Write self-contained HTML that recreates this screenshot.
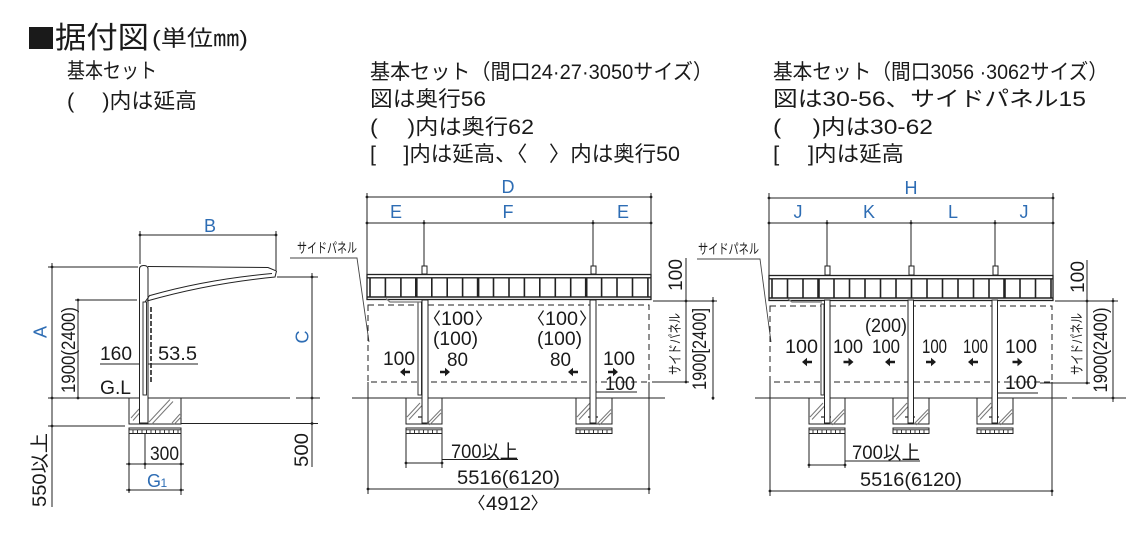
<!DOCTYPE html>
<html><head><meta charset="utf-8">
<style>
html,body{margin:0;padding:0;background:#fff;}
svg{display:block;}
text{font-family:"Liberation Sans","Noto Sans CJK JP",sans-serif;fill:#1a1a1a;}
.b{fill:#2e6db4;}
</style></head><body>
<svg width="1126" height="558" viewBox="0 0 1126 558" xmlns="http://www.w3.org/2000/svg">
<defs>
  <g id="ft">
    <path d="M-18,398V424H18V398" fill="none" stroke="#222" stroke-width="1"/>
    <rect x="-18" y="428" width="36" height="5.5" fill="none" stroke="#222" stroke-width="1"/>
    <path d="M-18,429.8H18 M-14,429.8V433.5 M-9.5,429.8V433.5 M-5,429.8V433.5 M-0.5,429.8V433.5 M4,429.8V433.5 M8.5,429.8V433.5 M13,429.8V433.5" fill="none" stroke="#222" stroke-width="0.9"/>
    <path d="M-17,417L-4,403 M-15,419.5L-2,405.5 M3,424L17,409.5 M5.5,425L17,413" fill="none" stroke="#777" stroke-width="1"/>
    <path d="M-6,417H4" stroke="#222" stroke-width="1.2"/>
  </g>
  <path id="ar" d="M-5,-1.3h5v-3l5,4.3l-5,4.3v-3h-5z" fill="#1a1a1a"/>
</defs>

<!-- Header -->
<rect x="29" y="27" width="24" height="22" fill="#1a1a1a"/>
<text x="55" y="48" font-size="30" textLength="94" lengthAdjust="spacingAndGlyphs">据付図</text>
<text x="152" y="46" font-size="22" textLength="96" lengthAdjust="spacingAndGlyphs">(単位㎜)</text>

<text x="67" y="78" font-size="21" textLength="90" lengthAdjust="spacingAndGlyphs">基本セット</text>
<text x="67" y="108" font-size="21" textLength="130" lengthAdjust="spacingAndGlyphs">(　 )内は延高</text>

<text x="370" y="79" font-size="21" textLength="343" lengthAdjust="spacingAndGlyphs">基本セット（間口24·27·3050サイズ）</text>
<text x="370" y="106" font-size="21" textLength="116" lengthAdjust="spacingAndGlyphs">図は奥行56</text>
<text x="370" y="134" font-size="21" textLength="164" lengthAdjust="spacingAndGlyphs">(　 )内は奥行62</text>
<text x="370" y="161" font-size="21" textLength="310" lengthAdjust="spacingAndGlyphs">[　 ]内は延高、〈　〉内は奥行50</text>

<text x="773" y="79" font-size="21" textLength="335" lengthAdjust="spacingAndGlyphs">基本セット（間口3056 ·3062サイズ）</text>
<text x="773" y="106" font-size="21" textLength="313" lengthAdjust="spacingAndGlyphs">図は30-56、サイドパネル15</text>
<text x="773" y="134" font-size="21" textLength="160" lengthAdjust="spacingAndGlyphs">(　 )内は30-62</text>
<text x="773" y="161" font-size="21" textLength="131" lengthAdjust="spacingAndGlyphs">[　 ]内は延高</text>

<!-- ========== LEFT DIAGRAM ========== -->
<g fill="none" stroke="#222" stroke-width="1">
  <path d="M140,235H276 M140,231V264 M276,231V270"/>
  <path d="M52,263V507 M48,267H138 M75,300H137 M78,300V398 M48,426H125 M48,398H290 M296,398H320 M277,277H318 M312,273V467 M181,423.5H318"/>
  <path d="M129,398V424H181V398"/>
  <rect x="129" y="428" width="52" height="5.5"/>
  <path d="M129,429.8H181 M133,429.8V433.5 M137.5,429.8V433.5 M142,429.8V433.5 M146.5,429.8V433.5 M151,429.8V433.5 M155.5,429.8V433.5 M160,429.8V433.5 M164.5,429.8V433.5 M169,429.8V433.5 M173.5,429.8V433.5 M178,429.8V433.5" stroke-width="0.9"/>
  <path d="M129,433V493 M145,433V469 M181,433V495 M126,464H184 M126,490H184"/>
  <path d="M100,364H198"/>
</g>
<path d="M131,418L139,409 M133,420.5L140,412.5 M149,422L170,399.5 M152,424L173,401.5 M172,423L180,414 M174.5,424L181,417" fill="none" stroke="#777" stroke-width="1"/>
<path d="M139.5,423V269Q139.5,265.5 143.8,265.5Q148,265.5 148,269V423Z" fill="#fff" stroke="#222" stroke-width="1"/>
<rect x="143" y="302" width="3.5" height="93" fill="#fff" stroke="#222" stroke-width="0.9"/>
<path d="M151,307V383" stroke="#222" stroke-width="1.6" stroke-dasharray="5 2"/>
<path d="M148,266.5L268,267.5L276.5,271L275,277Q208,283.5 147,301" fill="none" stroke="#222" stroke-width="1"/>
<path d="M150,295.5Q206,279.5 272,273.5" fill="none" stroke="#222" stroke-width="1"/>
<path d="M145,302L150,295" fill="none" stroke="#222" stroke-width="1"/>
<g fill="#222">
  <circle cx="140" cy="235" r="1.4"/><circle cx="276" cy="235" r="1.4"/>
  <circle cx="52" cy="267" r="1.4"/><circle cx="52" cy="398" r="1.4"/><circle cx="52" cy="426" r="1.4"/>
  <circle cx="78" cy="300" r="1.4"/><circle cx="78" cy="398" r="1.4"/>
  <circle cx="312" cy="277" r="1.4"/><circle cx="312" cy="398" r="1.4"/><circle cx="312" cy="423.5" r="1.4"/>
  <circle cx="129" cy="464" r="1.4"/><circle cx="145" cy="464" r="1.4"/><circle cx="181" cy="464" r="1.4"/>
  <circle cx="129" cy="490" r="1.4"/><circle cx="181" cy="490" r="1.4"/>
</g>
<text class="b" x="210" y="232" font-size="18" text-anchor="middle">B</text>
<text class="b" transform="translate(40,332) rotate(-90)" x="0" y="6.5" font-size="18" text-anchor="middle">A</text>
<text class="b" transform="translate(302,337) rotate(-90)" x="0" y="6.5" font-size="18" text-anchor="middle">C</text>
<text transform="translate(68,350) rotate(-90)" x="-43" y="6.8" font-size="19" textLength="86" lengthAdjust="spacingAndGlyphs">1900(2400)</text>
<text transform="translate(39,470) rotate(-90)" x="-37" y="6.8" font-size="19" textLength="74" lengthAdjust="spacingAndGlyphs">550以上</text>
<text transform="translate(301,450) rotate(-90)" x="-17" y="6.8" font-size="19" textLength="34" lengthAdjust="spacingAndGlyphs">500</text>
<text x="100" y="360" font-size="19" textLength="32" lengthAdjust="spacingAndGlyphs">160</text>
<text x="158" y="360" font-size="19" textLength="39" lengthAdjust="spacingAndGlyphs">53.5</text>
<text x="100" y="394" font-size="19" textLength="31" lengthAdjust="spacingAndGlyphs">G.L</text>
<text x="150" y="460" font-size="19" textLength="29" lengthAdjust="spacingAndGlyphs">300</text>
<text class="b" x="147" y="487" font-size="18">G</text>
<text class="b" x="160.5" y="487" font-size="12">1</text>

<!-- ========== MIDDLE DIAGRAM ========== -->
<g fill="none" stroke="#222" stroke-width="1">
  <path d="M367,197H651 M367,223H651 M367,193V274 M651,193V274 M424,220V267 M593,220V267"/>
  <path d="M352,398H665"/>
  <path d="M368,382V494 M649,382V494 M368,489H649"/>
  <path d="M406,433V468 M442,433V468 M406,463H442 M442,459.5H518"/>
  <path d="M686,258V382 M653,301H717 M652,382H689 M713,297V400"/>
  <path d="M590,392H637"/>
</g>
<text x="297" y="253" font-size="14" textLength="60" lengthAdjust="spacingAndGlyphs">サイドパネル</text>
<path d="M290,258H357L369,342" fill="none" stroke="#444" stroke-width="0.9"/>
<rect x="422" y="266" width="5" height="8" fill="#fff" stroke="#222" stroke-width="1"/>
<rect x="591" y="266" width="5" height="8" fill="#fff" stroke="#222" stroke-width="1"/>
<rect x="367" y="274.5" width="284" height="25" fill="#fff" stroke="#222" stroke-width="1.3"/>
<path d="M367,277.8H651 M367,297H651" stroke="#222" stroke-width="1.4" fill="none"/>
<path d="M370,278V297 M385.4,278V297 M400.9,278V297 M431.8,278V297 M447.2,278V297 M462.6,278V297 M493.5,278V297 M509,278V297 M524.4,278V297 M539.8,278V297 M555.3,278V297 M570.7,278V297 M601.6,278V297 M617,278V297 M632.5,278V297 M647.9,278V297" stroke="#222" stroke-width="1.6" fill="none"/>
<path d="M416.3,278V297 M478.1,278V297 M586.2,278V297" stroke="#222" stroke-width="2.6" fill="none"/>
<rect x="368" y="305" width="281" height="77" fill="none" stroke="#222" stroke-width="1" stroke-dasharray="6 4"/>
<use href="#ft" x="424" y="0"/>
<use href="#ft" x="594" y="0"/>
<rect x="422" y="300" width="6" height="123" fill="#fff" stroke="#222" stroke-width="1"/>
<rect x="590" y="300" width="6" height="123" fill="#fff" stroke="#222" stroke-width="1"/>
<rect x="418" y="302" width="3.5" height="93" fill="#fff" stroke="#222" stroke-width="0.9"/>
<path d="M386,298.5L390,302H421" fill="none" stroke="#777" stroke-width="1.2"/>
<g fill="#222">
  <circle cx="367" cy="197" r="1.4"/><circle cx="651" cy="197" r="1.4"/>
  <circle cx="367" cy="223" r="1.4"/><circle cx="424" cy="223" r="1.4"/><circle cx="593" cy="223" r="1.4"/><circle cx="651" cy="223" r="1.4"/>
  <circle cx="368" cy="489" r="1.4"/><circle cx="649" cy="489" r="1.4"/>
  <circle cx="406" cy="463" r="1.4"/><circle cx="442" cy="463" r="1.4"/>
  <circle cx="686" cy="301" r="1.4"/><circle cx="686" cy="382" r="1.4"/><circle cx="713" cy="301" r="1.4"/><circle cx="713" cy="398" r="1.4"/>
</g>
<text class="b" x="508" y="193" font-size="18" text-anchor="middle">D</text>
<text class="b" x="396" y="218" font-size="18" text-anchor="middle">E</text>
<text class="b" x="508" y="218" font-size="18" text-anchor="middle">F</text>
<text class="b" x="623" y="218" font-size="18" text-anchor="middle">E</text>
<!-- angle-bracketed 100 -->
<path d="M439.5,310.5L434.5,318L439.5,325.5 M476.5,310.5L481.5,318L476.5,325.5 M543.5,310.5L538.5,318L543.5,325.5 M580.5,310.5L585.5,318L580.5,325.5" fill="none" stroke="#1a1a1a" stroke-width="1.2"/>
<text x="441" y="325" font-size="19" textLength="33" lengthAdjust="spacingAndGlyphs">100</text>
<text x="545" y="325" font-size="19" textLength="33" lengthAdjust="spacingAndGlyphs">100</text>
<text x="433" y="345" font-size="19" textLength="45" lengthAdjust="spacingAndGlyphs">(100)</text>
<text x="447" y="366" font-size="19" textLength="21" lengthAdjust="spacingAndGlyphs">80</text>
<text x="383" y="365" font-size="19" textLength="32" lengthAdjust="spacingAndGlyphs">100</text>
<text x="537" y="345" font-size="19" textLength="45" lengthAdjust="spacingAndGlyphs">(100)</text>
<text x="550" y="366" font-size="19" textLength="21" lengthAdjust="spacingAndGlyphs">80</text>
<text x="603" y="365" font-size="19" textLength="32" lengthAdjust="spacingAndGlyphs">100</text>
<text x="605" y="390" font-size="19" textLength="30" lengthAdjust="spacingAndGlyphs">100</text>
<use href="#ar" transform="translate(405,372) scale(-1,1)"/>
<use href="#ar" transform="translate(445,372)"/>
<use href="#ar" transform="translate(573,372) scale(-1,1)"/>
<use href="#ar" transform="translate(613,372)"/>
<text x="451" y="458" font-size="19" textLength="67" lengthAdjust="spacingAndGlyphs">700以上</text>
<text x="457" y="484" font-size="19" textLength="103" lengthAdjust="spacingAndGlyphs">5516(6120)</text>
<path d="M484,495L479,502.5L484,510 M532,495L537,502.5L532,510" fill="none" stroke="#1a1a1a" stroke-width="1.2"/>
<text x="486" y="510" font-size="19" textLength="45" lengthAdjust="spacingAndGlyphs">4912</text>
<text transform="translate(675,275) rotate(-90)" x="-16" y="6.8" font-size="19" textLength="32" lengthAdjust="spacingAndGlyphs">100</text>
<text transform="translate(675,344) rotate(-90)" x="-31" y="5" font-size="14" textLength="62" lengthAdjust="spacingAndGlyphs">サイドパネル</text>
<text transform="translate(699,349) rotate(-90)" x="-41" y="6.8" font-size="19" textLength="82" lengthAdjust="spacingAndGlyphs">1900[2400]</text>

<!-- ========== RIGHT DIAGRAM ========== -->
<g fill="none" stroke="#222" stroke-width="1">
  <path d="M769,198H1053 M769,223H1053 M769,193V275 M1053,193V275 M827,220V267 M911,220V267 M995,220V267"/>
  <path d="M755,398H1067 M1072,398H1126"/>
  <path d="M770,382V496 M1052,382V496 M770,491H1052"/>
  <path d="M809,434V468 M845,434V468 M809,465H845 M845,461H920"/>
  <path d="M1087,260V383 M1055,301H1118 M1040,383H1090 M1113,298V402"/>
  <path d="M992,393H1038"/>
</g>
<text x="698" y="254" font-size="14" textLength="61" lengthAdjust="spacingAndGlyphs">サイドパネル</text>
<path d="M697,259H760L771,342" fill="none" stroke="#444" stroke-width="0.9"/>
<rect x="825" y="266" width="5" height="9" fill="#fff" stroke="#222" stroke-width="1"/>
<rect x="909" y="266" width="5" height="9" fill="#fff" stroke="#222" stroke-width="1"/>
<rect x="993" y="266" width="5" height="9" fill="#fff" stroke="#222" stroke-width="1"/>
<rect x="769" y="275.5" width="284" height="25" fill="#fff" stroke="#222" stroke-width="1.3"/>
<path d="M769,278.8H1053 M769,298H1053" stroke="#222" stroke-width="1.4" fill="none"/>
<path d="M772,279V298 M787.5,279V298 M803,279V298 M834,279V298 M849.5,279V298 M865,279V298 M880.5,279V298 M896,279V298 M911.5,279V298 M927,279V298 M942.5,279V298 M958,279V298 M973.5,279V298 M989,279V298 M1020,279V298 M1035.5,279V298 M1051,279V298" stroke="#222" stroke-width="1.6" fill="none"/>
<path d="M818.5,279V298 M1004.5,279V298" stroke="#222" stroke-width="2.6" fill="none"/>
<rect x="770" y="306" width="282" height="76" fill="none" stroke="#222" stroke-width="1" stroke-dasharray="6 4"/>
<use href="#ft" x="827" y="0"/>
<use href="#ft" x="911" y="0"/>
<use href="#ft" x="995" y="0"/>
<rect x="824.5" y="300" width="5.5" height="123" fill="#fff" stroke="#222" stroke-width="1"/>
<rect x="908" y="300" width="5.5" height="123" fill="#fff" stroke="#222" stroke-width="1"/>
<rect x="992" y="300" width="5.5" height="123" fill="#fff" stroke="#222" stroke-width="1"/>
<rect x="821" y="304" width="3" height="91" fill="#fff" stroke="#222" stroke-width="0.9"/>
<path d="M788,299L792,302H822" fill="none" stroke="#777" stroke-width="1.2"/>
<g fill="#222">
  <circle cx="769" cy="198" r="1.4"/><circle cx="1053" cy="198" r="1.4"/>
  <circle cx="769" cy="223" r="1.4"/><circle cx="827" cy="223" r="1.4"/><circle cx="911" cy="223" r="1.4"/><circle cx="995" cy="223" r="1.4"/><circle cx="1053" cy="223" r="1.4"/>
  <circle cx="770" cy="491" r="1.4"/><circle cx="1052" cy="491" r="1.4"/>
  <circle cx="809" cy="465" r="1.4"/><circle cx="845" cy="465" r="1.4"/>
  <circle cx="1087" cy="301" r="1.4"/><circle cx="1087" cy="383" r="1.4"/><circle cx="1113" cy="301" r="1.4"/><circle cx="1113" cy="398" r="1.4"/>
</g>
<text class="b" x="911" y="194" font-size="18" text-anchor="middle">H</text>
<text class="b" x="798" y="218" font-size="18" text-anchor="middle">J</text>
<text class="b" x="869" y="218" font-size="18" text-anchor="middle">K</text>
<text class="b" x="953" y="218" font-size="18" text-anchor="middle">L</text>
<text class="b" x="1024" y="218" font-size="18" text-anchor="middle">J</text>
<text x="865" y="332" font-size="19" textLength="42" lengthAdjust="spacingAndGlyphs">(200)</text>
<text x="785" y="353" font-size="19" textLength="33" lengthAdjust="spacingAndGlyphs">100</text>
<text x="833" y="353" font-size="19" textLength="30" lengthAdjust="spacingAndGlyphs">100</text>
<text x="872" y="353" font-size="19" textLength="28" lengthAdjust="spacingAndGlyphs">100</text>
<text x="922" y="353" font-size="19" textLength="25" lengthAdjust="spacingAndGlyphs">100</text>
<text x="963" y="353" font-size="19" textLength="25" lengthAdjust="spacingAndGlyphs">100</text>
<text x="1005" y="353" font-size="19" textLength="32" lengthAdjust="spacingAndGlyphs">100</text>
<text x="1005" y="389" font-size="19" textLength="32" lengthAdjust="spacingAndGlyphs">100</text>
<use href="#ar" transform="translate(807,362) scale(-1,1)"/>
<use href="#ar" transform="translate(848.5,362)"/>
<use href="#ar" transform="translate(890,362) scale(-1,1)"/>
<use href="#ar" transform="translate(931,362)"/>
<use href="#ar" transform="translate(973,362) scale(-1,1)"/>
<use href="#ar" transform="translate(1017.5,362)"/>
<text x="852" y="459" font-size="19" textLength="68" lengthAdjust="spacingAndGlyphs">700以上</text>
<text x="860" y="486" font-size="19" textLength="102" lengthAdjust="spacingAndGlyphs">5516(6120)</text>
<text transform="translate(1077,277) rotate(-90)" x="-16" y="6.8" font-size="19" textLength="32" lengthAdjust="spacingAndGlyphs">100</text>
<text transform="translate(1077,344) rotate(-90)" x="-31" y="5" font-size="14" textLength="62" lengthAdjust="spacingAndGlyphs">サイドパネル</text>
<text transform="translate(1100,350) rotate(-90)" x="-42.5" y="6.8" font-size="19" textLength="85" lengthAdjust="spacingAndGlyphs">1900(2400)</text>
</svg>
</body></html>
